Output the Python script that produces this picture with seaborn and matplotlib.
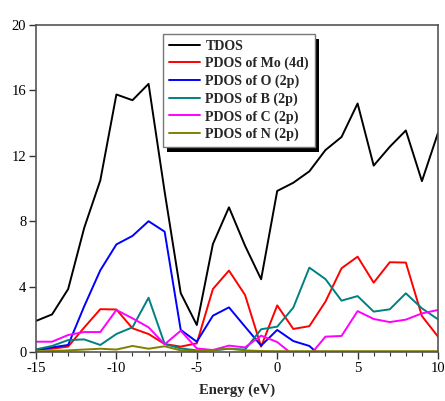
import numpy as np
import pandas as pd
import matplotlib
matplotlib.use("Agg")
import matplotlib.pyplot as plt
from matplotlib.patches import Rectangle
from matplotlib.ticker import MultipleLocator
import seaborn as sns

energy = list(range(-15, 11))

tdos = [1.9, 2.3, 3.85, 7.6, 10.5, 15.75, 15.4, 16.4, 9.8, 3.6, 1.65, 6.6, 8.85, 6.5, 4.45,
        9.85, 10.35, 11.05, 12.35, 13.15, 15.2, 11.4, 12.55, 13.55, 10.45, 13.4]
mo_4d = [0.16, 0.2, 0.33, 1.5, 2.62, 2.6, 1.45, 1.1, 0.49, 0.33, 0.53, 3.85, 4.98, 3.49, 0.33,
         2.85, 1.41, 1.58, 3.08, 5.12, 5.83, 4.24, 5.49, 5.47, 2.2, 0.94]
o_2p = [0.14, 0.28, 0.43, 2.8, 5.0, 6.58, 7.1, 8.0, 7.36, 1.35, 0.63, 2.22, 2.73, 1.55, 0.39,
        1.35, 0.67, 0.37, -0.5, 0.0, 0.0, 0.0, 0.0, 0.0, 0.0, 0.0]
b_2p = [0.16, 0.37, 0.73, 0.77, 0.43, 1.1, 1.51, 3.32, 0.49, 0.22, 0.1, 0.1, 0.2, 0.15, 1.39,
        1.55, 2.71, 5.16, 4.46, 3.14, 3.42, 2.47, 2.61, 3.59, 2.67, 2.0]
c_2p = [0.63, 0.63, 1.04, 1.22, 1.22, 2.57, 2.06, 1.51, 0.47, 1.3, 0.22, 0.12, 0.39, 0.28, 1.0,
        0.61, -0.18, -0.25, 0.94, 0.98, 2.5, 2.02, 1.83, 1.98, 2.36, 2.57]
n_2p = [0.05, 0.06, 0.1, 0.15, 0.2, 0.15, 0.37, 0.2, 0.35, 0.1, 0.06, 0.12, 0.2, 0.1, 0.06,
        0.05, 0.05, 0.05, 0.05, 0.05, 0.05, 0.05, 0.05, 0.05, 0.05, 0.05]

series_names = ["TDOS", "PDOS of Mo (4d)", "PDOS of O (2p)", "PDOS of B (2p)",
                "PDOS of C (2p)", "PDOS of N (2p)"]
series_values = [tdos, mo_4d, o_2p, b_2p, c_2p, n_2p]
colors = ["#000000", "#FF0000", "#0000FF", "#008080", "#FF00FF", "#808000"]

x_ticks = [-15, -10, -5, 0, 5, 10]
y_ticks = [0, 4, 8, 12, 16, 20]

rows = []
for name, vals in zip(series_names, series_values):
    for e, v in zip(energy, vals):
        rows.append({"Energy": e, "DOS": v, "series": name})
df = pd.DataFrame(rows)

sns.set_style("ticks")
plt.rcParams["font.family"] = ["Liberation Serif", "DejaVu Serif"]
plt.rcParams["axes.unicode_minus"] = False

fig = plt.figure(figsize=(4.45, 4.01), dpi=100)
ax = fig.add_axes([36 / 445, 1 - 352 / 401, 402 / 445, 327 / 401])

sns.lineplot(data=df, x="Energy", y="DOS", hue="series", hue_order=series_names,
             palette=colors, linewidth=1.4, ax=ax, legend=False, sort=False)

ax.set_xlim(-15, 10)
ax.set_ylim(0, 20)
ax.set_xticks(x_ticks)
ax.set_yticks(y_ticks)
ax.xaxis.set_minor_locator(MultipleLocator(1))
ax.tick_params(axis="both", which="major", direction="out", length=5, width=1,
               labelsize=10.5, colors="#333333", pad=2)
ax.tick_params(axis="x", which="minor", direction="out", length=3, width=0.8, colors="#333333")
ax.tick_params(axis="both", labelcolor="black")
for s in ax.spines.values():
    s.set_visible(True)
    s.set_color("#555555")
    s.set_linewidth(1.2)

ax.set_xlabel("Energy (eV)", fontsize=10.5, fontweight="bold", labelpad=6)
ax.set_ylabel("")

handles = [plt.Line2D([], [], color=c, lw=1.4) for c in colors]
leg = ax.legend(handles, series_names, loc="upper left", bbox_to_anchor=(0.3165, 0.972),
                borderaxespad=0, frameon=True, fancybox=False, shadow=False,
                prop={"family": "Liberation Serif", "weight": "bold", "size": 10.1},
                handlelength=2.25, handletextpad=0.36, labelspacing=0.3,
                borderpad=0.4)
leg.get_frame().set_edgecolor("#777777")
leg.get_frame().set_linewidth(1.0)
leg.get_frame().set_alpha(1)
leg.set_zorder(6)

fig.canvas.draw()
bb = leg.get_window_extent().transformed(ax.transAxes.inverted())
dx = 4 / 402
dy = 5 / 327
shadow = Rectangle((bb.x0 + dx, bb.y0 - dy), bb.width, bb.height, transform=ax.transAxes,
                   facecolor="black", edgecolor="none", zorder=5.5, clip_on=False)
ax.add_patch(shadow)

fig.savefig("out.png", dpi=100)
